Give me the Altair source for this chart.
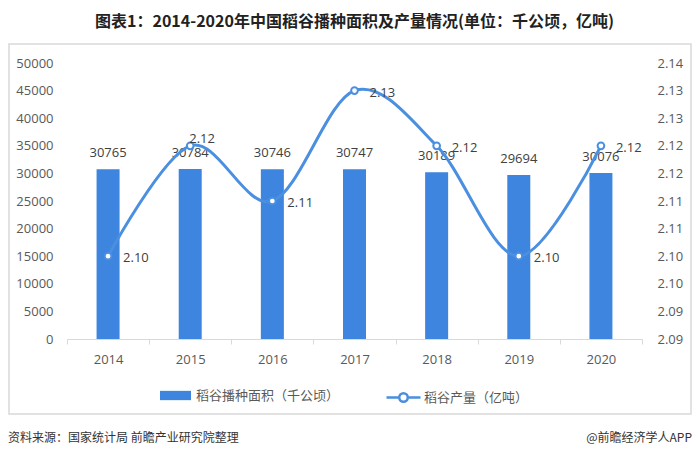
import altair as alt
import pandas as pd

years = ["2014", "2015", "2016", "2017", "2018", "2019", "2020"]
area = [30765, 30784, 30746, 30747, 30189, 29694, 30076]
output = [2.10, 2.12, 2.11, 2.13, 2.12, 2.10, 2.12]
left_ticks = [0, 5000, 10000, 15000, 20000, 25000, 30000, 35000, 40000, 45000, 50000]
right_ticks = [2.085, 2.09, 2.095, 2.10, 2.105, 2.11, 2.115, 2.12, 2.125, 2.13, 2.135]
right_labels = ["2.09", "2.09", "2.10", "2.10", "2.11", "2.11", "2.12", "2.12", "2.13", "2.13", "2.14"]
bar_name = "稻谷播种面积（千公顷）"
line_name = "稻谷产量（亿吨）"
title_text = "图表1：2014-2020年中国稻谷播种面积及产量情况(单位：千公顷，亿吨)"
source_text = "资料来源：国家统计局 前瞻产业研究院整理"
brand_text = "@前瞻经济学人APP"

BAR = "#3d85de"
LINE = "#4a8fe0"
FONT = "Open Sans, Noto Sans CJK SC"
CJK = "Noto Sans CJK SC"

df = pd.DataFrame({
    "year": years,
    "area": area,
    "output": output,
    "bar_series": [bar_name] * len(years),
    "line_series": [line_name] * len(years),
})

label_expr = "[" + ",".join("'%s'" % s for s in right_labels) + "][round((datum.value - 2.085) / 0.005)]"

x_enc = alt.X(
    "year:O",
    title=None,
    scale=alt.Scale(paddingInner=0, paddingOuter=0),
    axis=alt.Axis(
        labelAngle=0, labelFont=FONT, labelFontSize=13, labelColor="#595959",
        domainColor="#d9d9d9", domainWidth=1, tickColor="#d9d9d9", tickSize=5,
        tickBand="extent", labelPadding=9, grid=False,
    ),
)

base = alt.Chart(df).encode(x=x_enc)

y_bar = alt.Y(
    "area:Q",
    title=None,
    scale=alt.Scale(domain=[0, 50000], nice=False),
    axis=alt.Axis(
        orient="left", values=left_ticks, grid=False, domain=False, ticks=False,
        labelFont=FONT, labelFontSize=13, labelColor="#595959", labelPadding=14,
        format="d",
    ),
)

bar_path = "M-1,-0.3H1V0.3H-1Z"
line_path = "M-1,0H-0.27M0.27,0H1M-0.25,0A0.25,0.25 0 1,1 0.25,0A0.25,0.25 0 1,1 -0.25,0Z"

bars = base.mark_bar(size=23).encode(
    y=y_bar,
    fill=alt.Fill(
        "bar_series:N",
        scale=alt.Scale(range=[BAR]),
        legend=alt.Legend(
            title=None, orient="none", legendX=92, legendY=316, direction="horizontal",
            symbolType=bar_path, symbolSize=961, labelFont=CJK, labelFontSize=13,
            labelColor="#595959", labelOffset=4, padding=0,
        ),
    ),
)

bar_labels = base.mark_text(
    baseline="bottom", dy=-9, font=FONT, fontSize=13, color="#404040"
).encode(y=y_bar, text=alt.Text("area:Q", format="d"))

y_line = alt.Y(
    "output:Q",
    title=None,
    scale=alt.Scale(domain=[2.085, 2.135], nice=False, zero=False),
    axis=alt.Axis(
        orient="right", values=right_ticks, labelExpr=label_expr, grid=False,
        domain=False, ticks=False, labelFont=FONT, labelFontSize=13,
        labelColor="#595959", labelPadding=15,
    ),
)

line = base.mark_line(interpolate="cardinal", strokeWidth=3).encode(
    y=y_line,
    stroke=alt.Stroke(
        "line_series:N",
        scale=alt.Scale(range=[LINE]),
        legend=alt.Legend(
            title=None, orient="none", legendX=318, legendY=316, direction="horizontal",
            symbolType=line_path, symbolSize=1156, symbolStrokeWidth=2.5,
            symbolFillColor="white", labelFont=CJK, labelFontSize=13,
            labelColor="#595959", labelOffset=2, padding=0,
        ),
    ),
)

points = base.mark_point(
    filled=True, fill="white", stroke=LINE, strokeWidth=2, size=45, opacity=1
).encode(y=y_line)

line_labels = base.mark_text(
    align="left", baseline="middle", dx=15, dy=2, font=FONT, fontSize=13, color="#404040"
).encode(y=y_line, text=alt.Text("output:Q", format=".2f")).transform_filter(
    "datum.year != '2015'"
)

line_label_2015 = base.mark_text(
    align="left", baseline="middle", dx=-1, dy=-7, font=FONT, fontSize=13, color="#404040"
).encode(y=y_line, text=alt.Text("output:Q", format=".2f")).transform_filter(
    "datum.year == '2015'"
)

one = pd.DataFrame({"a": [0]})
frame = alt.Chart(one).mark_rect(
    filled=False, stroke="#d9d9d9", strokeWidth=1.5
).encode(x=alt.value(-58), x2=alt.value(624), y=alt.value(-19), y2=alt.value(351))

source = alt.Chart(one).mark_text(
    align="left", baseline="middle", font=CJK, fontSize=12, color="#333333"
).encode(x=alt.value(-59), y=alt.value(375), text=alt.value(source_text))

brand = alt.Chart(one).mark_text(
    align="right", baseline="middle", font=CJK, fontSize=12, color="#333333"
).encode(x=alt.value(625), y=alt.value(375), text=alt.value(brand_text))

bar_layer = alt.layer(bars, bar_labels)
line_layer = alt.layer(line, points, line_labels, line_label_2015)

chart = alt.layer(frame, bar_layer, line_layer, source, brand).resolve_scale(
    y="independent", fill="independent", stroke="independent"
).properties(
    width=575,
    height=276,
    autosize=alt.AutoSizeParams(type="none"),
    padding={"left": 59, "top": 55, "right": 50, "bottom": 112},
    title=alt.Title(
        title_text, font=CJK, fontSize=16, fontWeight="bold", color="#222222",
        anchor="middle", offset=13,
    ),
).configure_view(stroke=None)

chart.save("out.html", embed_options={"renderer": "svg", "actions": False})
